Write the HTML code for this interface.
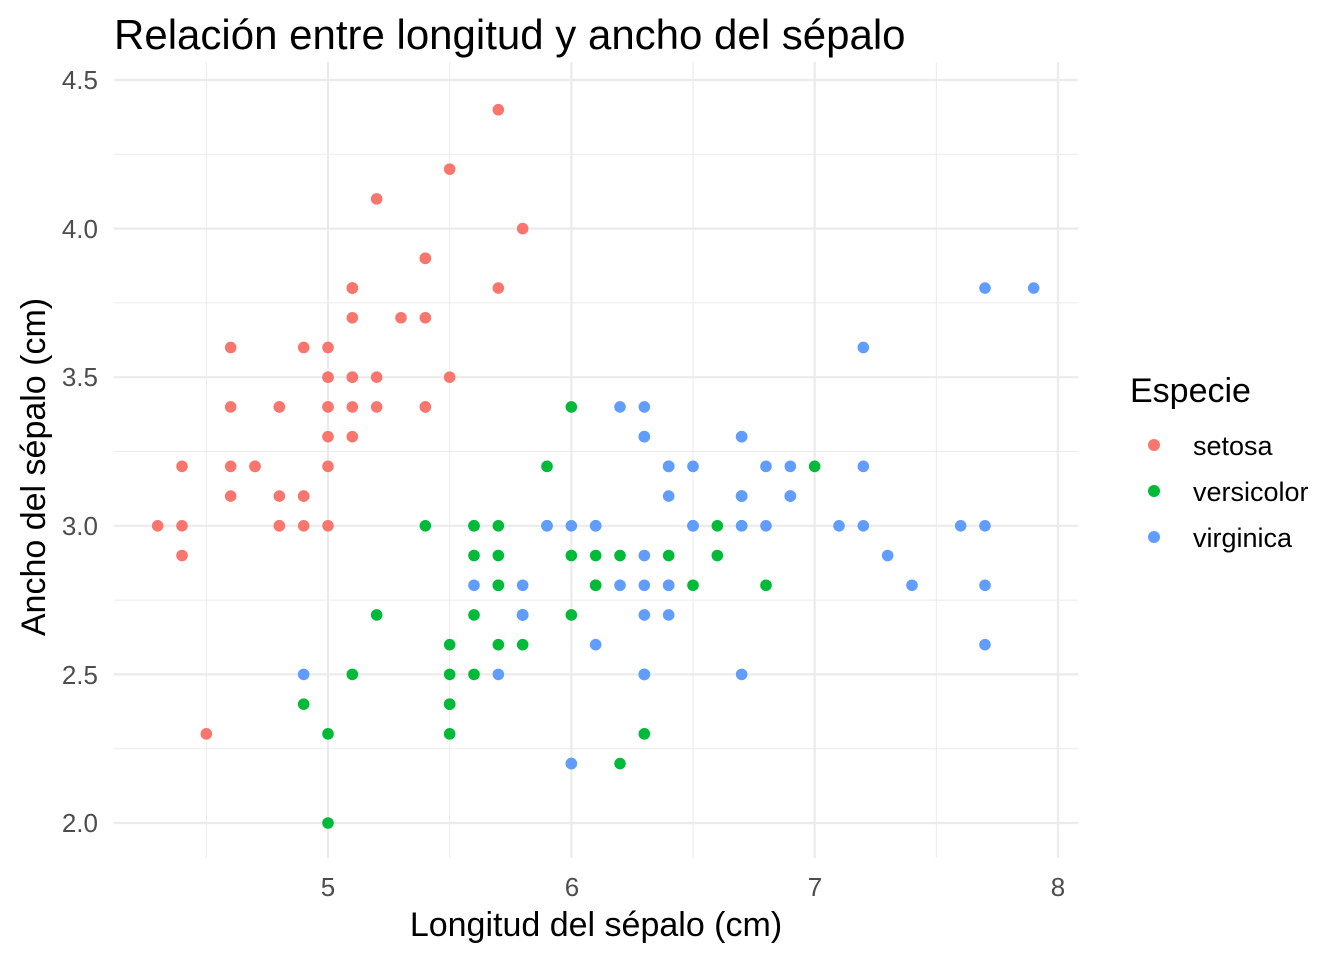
<!DOCTYPE html>
<html><head><meta charset="utf-8"><style>
body{margin:0;background:#fff}
svg{display:block;font-family:"Liberation Sans",Arial,sans-serif}
</style></head><body>
<svg id="s" width="1344" height="960" xmlns="http://www.w3.org/2000/svg">
<rect width="1344" height="960" fill="#fff"/>
<g id="grid"></g>
<g id="pts"></g>
<text x="114" y="49" font-size="42" fill="#000">Relación entre longitud y ancho del sépalo</text>
<g font-size="26" fill="#4d4d4d" text-anchor="end">
<text x="98" y="89">4.5</text><text x="98" y="238">4.0</text><text x="98" y="386">3.5</text>
<text x="98" y="535">3.0</text><text x="98" y="684">2.5</text><text x="98" y="832">2.0</text>
</g>
<g font-size="26" fill="#4d4d4d" text-anchor="middle">
<text x="328" y="896">5</text><text x="572" y="896">6</text><text x="815" y="896">7</text><text x="1058" y="896">8</text>
</g>
<text x="596" y="936" font-size="34" text-anchor="middle" fill="#000">Longitud del sépalo (cm)</text>
<text transform="translate(45,467) rotate(-90)" font-size="34" text-anchor="middle" fill="#000">Ancho del sépalo (cm)</text>
<text x="1130" y="402" font-size="34" fill="#000">Especie</text>
<circle cx="1154" cy="445" r="6" fill="#F8766D"/><circle cx="1154" cy="491" r="6" fill="#00BA38"/><circle cx="1154" cy="537" r="6" fill="#619CFF"/>
<g font-size="27" fill="#000"><text x="1193" y="455">setosa</text><text x="1193" y="501">versicolor</text><text x="1193" y="547">virginica</text></g>
</svg>
<script>
var X=v=>328+(v-5)*243.33, Y=v=>823-(v-2)*297.2;
var g='';
[4.5,5.5,6.5,7.5].forEach(v=>g+=`<line x1="${X(v)}" x2="${X(v)}" y1="62" y2="858" stroke="#ebebeb" stroke-width="1"/>`);
[2.25,2.75,3.25,3.75,4.25].forEach(v=>g+=`<line y1="${Y(v)}" y2="${Y(v)}" x1="114" x2="1078" stroke="#ebebeb" stroke-width="1"/>`);
[5,6,7,8].forEach(v=>g+=`<line x1="${X(v)}" x2="${X(v)}" y1="62" y2="858" stroke="#ebebeb" stroke-width="2.2"/>`);
[2,2.5,3,3.5,4,4.5].forEach(v=>g+=`<line y1="${Y(v)}" y2="${Y(v)}" x1="114" x2="1078" stroke="#ebebeb" stroke-width="2.2"/>`);
document.getElementById('grid').innerHTML=g;
var d={"#F8766D":"5.1 3.5,4.9 3.0,4.7 3.2,4.6 3.1,5.0 3.6,5.4 3.9,4.6 3.4,5.0 3.4,4.4 2.9,4.9 3.1,5.4 3.7,4.8 3.4,4.8 3.0,4.3 3.0,5.8 4.0,5.7 4.4,5.4 3.9,5.1 3.5,5.7 3.8,5.1 3.8,5.4 3.4,5.1 3.7,4.6 3.6,5.1 3.3,4.8 3.4,5.0 3.0,5.0 3.4,5.2 3.5,5.2 3.4,4.7 3.2,4.8 3.1,5.4 3.4,5.2 4.1,5.5 4.2,4.9 3.1,5.0 3.2,5.5 3.5,4.9 3.6,4.4 3.0,5.1 3.4,5.0 3.5,4.5 2.3,4.4 3.2,5.0 3.5,5.1 3.8,4.8 3.0,5.1 3.8,4.6 3.2,5.3 3.7,5.0 3.3",
"#00BA38":"7.0 3.2,6.4 3.2,6.9 3.1,5.5 2.3,6.5 2.8,5.7 2.8,6.3 3.3,4.9 2.4,6.6 2.9,5.2 2.7,5.0 2.0,5.9 3.0,6.0 2.2,6.1 2.9,5.6 2.9,6.7 3.1,5.6 3.0,5.8 2.7,6.2 2.2,5.6 2.5,5.9 3.2,6.1 2.8,6.3 2.5,6.1 2.8,6.4 2.9,6.6 3.0,6.8 2.8,6.7 3.0,6.0 2.9,5.7 2.6,5.5 2.4,5.5 2.4,5.8 2.7,6.0 2.7,5.4 3.0,6.0 3.4,6.7 3.1,6.3 2.3,5.6 3.0,5.5 2.5,5.5 2.6,6.1 3.0,5.8 2.6,5.0 2.3,5.6 2.7,5.7 3.0,5.7 2.9,6.2 2.9,5.1 2.5,5.7 2.8",
"#619CFF":"6.3 3.3,5.8 2.7,7.1 3.0,6.3 2.9,6.5 3.0,7.6 3.0,4.9 2.5,7.3 2.9,6.7 2.5,7.2 3.6,6.5 3.2,6.4 2.7,6.8 3.0,5.7 2.5,5.8 2.8,6.4 3.2,6.5 3.0,7.7 3.8,7.7 2.6,6.0 2.2,6.9 3.2,5.6 2.8,7.7 2.8,6.3 2.7,6.7 3.3,7.2 3.2,6.2 2.8,6.1 3.0,6.4 2.8,7.2 3.0,7.4 2.8,7.9 3.8,6.4 2.8,6.3 2.8,6.1 2.6,7.7 3.0,6.3 3.4,6.4 3.1,6.0 3.0,6.9 3.1,6.7 3.1,6.9 3.1,5.8 2.7,6.8 3.2,6.7 3.3,6.7 3.0,6.3 2.5,6.5 3.0,6.2 3.4,5.9 3.0"};
var p='';
for(var c in d)d[c].split(',').forEach(s=>{var a=s.split(' ');p+=`<circle cx="${X(+a[0])}" cy="${Y(+a[1])}" r="5.8" fill="${c}"/>`;});
document.getElementById('pts').innerHTML=p;
</script>
</body></html>
